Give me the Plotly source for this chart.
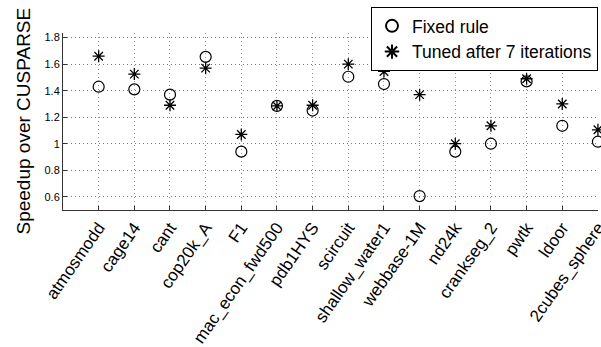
import plotly.graph_objects as go

matrices = ["atmosmodd", "cage14", "cant", "cop20k_A", "F1", "mac_econ_fwd500",
            "pdb1HYS", "scircuit", "shallow_water1", "webbase-1M", "nd24k",
            "crankseg_2", "pwtk", "ldoor", "2cubes_sphere"]
fixed_rule = [1.43, 1.41, 1.37, 1.655, 0.94, 1.285, 1.25, 1.505, 1.45, 0.605,
              0.94, 1.0, 1.47, 1.135, 1.015]
tuned_7 = [1.66, 1.525, 1.29, 1.57, 1.07, 1.285, 1.29, 1.60, 1.545, 1.37,
           1.0, 1.135, 1.49, 1.30, 1.105]
y_ticks = [0.6, 0.8, 1.0, 1.2, 1.4, 1.6, 1.8]
y_tick_text = ["0.6", "0.8", "1", "1.2", "1.4", "1.6", "1.8"]

positions = list(range(1, len(matrices) + 1))
font_family = "Liberation Sans, Arial, Helvetica, sans-serif"

W, H = 601, 347
M_L, M_R, M_T, M_B = 63, 3, 33, 137
plot_w = W - M_L - M_R

fig = go.Figure()
fig.add_trace(go.Scatter(
    x=positions, y=fixed_rule, mode="markers", name="Fixed rule",
    marker=dict(symbol="circle-open", size=11, color="black", line=dict(width=1.2)),
    cliponaxis=False,
))
fig.add_trace(go.Scatter(
    x=positions, y=tuned_7, mode="markers", name="Tuned after 7 iterations",
    marker=dict(symbol="asterisk-open", size=10, color="black", line=dict(width=1.3)),
    cliponaxis=False,
))

fig.update_layout(
    width=W, height=H,
    margin=dict(l=M_L, r=M_R, t=M_T, b=M_B),
    paper_bgcolor="white", plot_bgcolor="white",
    font=dict(family=font_family, color="black"),
    showlegend=True,
    legend=dict(
        x=1.0, xanchor="right", y=1.147, yanchor="top",
        bgcolor="white", bordercolor="black", borderwidth=1,
        font=dict(size=17.5, family=font_family),
        tracegroupgap=0, itemsizing="constant",
    ),
)

# y-axis title placed as a rotated annotation so it sits at a fixed x
fig.add_annotation(
    text="Speedup over CUSPARSE", textangle=-90,
    xref="paper", yref="paper", x=(23 - M_L) / plot_w, y=0.5,
    xanchor="center", yanchor="middle", showarrow=False,
    font=dict(size=19, family=font_family, color="black"),
)

fig.update_xaxes(
    range=[0, len(matrices) + 0.002],
    tickmode="array", tickvals=positions, ticktext=matrices,
    tickangle=-55, tickfont=dict(size=17),
    ticklabelstandoff=0, ticklabeloverflow="allow", automargin=False,
    ticks="inside", ticklen=4, tickcolor="#333",
    showline=True, linecolor="#333", linewidth=1,
    showgrid=True, gridcolor="#999", griddash="1px,3px", gridwidth=1,
    zeroline=False,
)
fig.update_yaxes(
    range=[0.5, 1.835],
    tickmode="array", tickvals=y_ticks, ticktext=y_tick_text,
    tickfont=dict(size=11), automargin=False,
    ticks="inside", ticklen=4, tickcolor="#333",
    showline=True, linecolor="#333", linewidth=1,
    showgrid=True, gridcolor="#777", griddash="1px,3px", gridwidth=1,
    zeroline=False,
)

fig.write_html("out.html")
